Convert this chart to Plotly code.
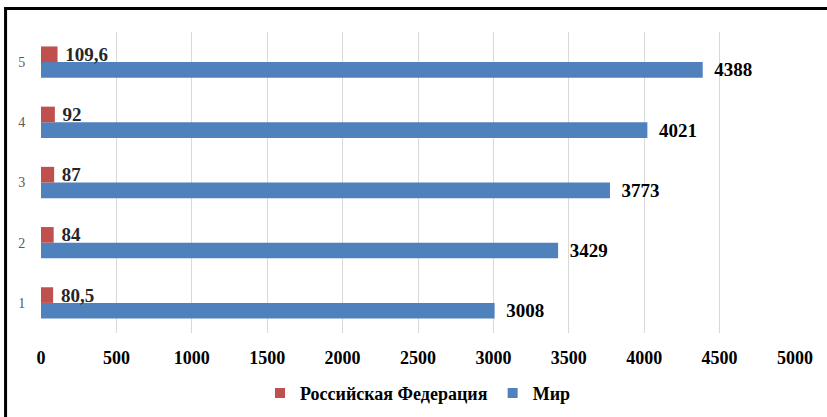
import plotly.graph_objects as go

categories = ["1", "2", "3", "4", "5"]
rf_values = [80.5, 84, 87, 92, 109.6]
world_values = [3008, 3429, 3773, 4021, 4388]
rf_name = "Российская Федерация"
world_name = "Мир"
x_ticks = list(range(0, 5001, 500))

def fmt(v, pad):
    return pad + (f"{v:g}".replace(".", ","))

FONT = "Liberation Serif, DejaVu Serif, serif"
RED = "#C0504D"
BLUE = "#4F81BD"

fig = go.Figure()
fig.add_trace(go.Bar(
    y=categories, x=world_values, orientation="h", name=world_name,
    marker=dict(color=BLUE, line=dict(width=0)),
    text=[fmt(v, "\u00a0\u2009") for v in world_values], textposition="outside",
    constraintext="none", cliponaxis=False,
    textfont=dict(family=FONT, size=19, color="black", weight="bold"),
    showlegend=False,
))
fig.add_trace(go.Bar(
    y=categories, x=rf_values, orientation="h", name=rf_name,
    marker=dict(color=RED, line=dict(width=0)),
    text=[fmt(v, "\u00a0") for v in rf_values], textposition="outside",
    constraintext="none", cliponaxis=False,
    textfont=dict(family=FONT, size=19, color="#262626", weight="bold"),
    showlegend=False,
))
# legend entries (square markers)
fig.add_trace(go.Scatter(x=[None], y=[None], mode="markers", name=world_name,
                         marker=dict(symbol="square", size=10, color=BLUE)))
fig.add_trace(go.Scatter(x=[None], y=[None], mode="markers", name=rf_name,
                         marker=dict(symbol="square", size=10, color=RED)))

fig.update_layout(
    width=827, height=417,
    margin=dict(l=41, r=32, t=32, b=84, autoexpand=False),
    paper_bgcolor="white", plot_bgcolor="white",
    barmode="group", bargap=0.48, bargroupgap=0,
    font=dict(family=FONT),
    legend=dict(orientation="h", traceorder="reversed",
                x=0.5, xanchor="center", y=-0.2, yanchor="middle",
                font=dict(family=FONT, size=18, color="black", weight="bold"),
                itemwidth=30),
    xaxis=dict(range=[0, 5000], tickvals=x_ticks, showgrid=True,
               gridcolor="#D9D9D9", gridwidth=1, zeroline=False,
               showline=False, ticks="outside", ticklen=8,
               tickcolor="rgba(0,0,0,0)", automargin=False,
               tickfont=dict(family=FONT, size=18, color="black", weight="bold")),
    yaxis=dict(showgrid=False, zeroline=False, showline=False,
               ticks="outside", ticklen=12, tickcolor="rgba(0,0,0,0)",
               automargin=False,
               tickfont=dict(family=FONT, size=14, color="#595959")),
    shapes=[dict(type="rect", xref="paper", yref="paper",
                 x0=-0.047, x1=1.2, y0=-0.5, y1=1.078,
                 line=dict(color="black", width=3), layer="above")],
)

fig.write_html(
    "out.html",
    config={"displayModeBar": False},
    post_script="document.body.style.margin='0';document.body.style.padding='0';",
)
